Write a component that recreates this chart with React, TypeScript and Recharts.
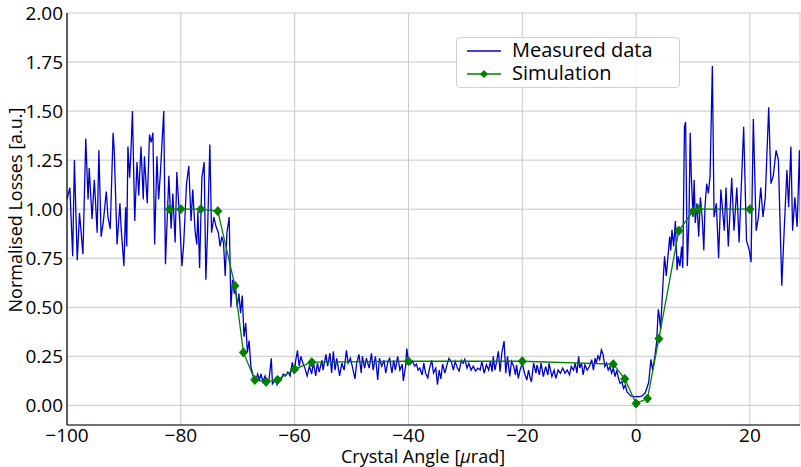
import { LineChart, Line, XAxis, YAxis, CartesianGrid, Label } from 'recharts';

// measured beam losses vs crystal angle
const measuredX = [
  -100, -99.5, -99.0, -98.7, -98.2, -97.8, -97.2, -96.7, -96.3, -96.1, -95.6, -95.2, -94.7, -94.4, -94.0, -93.6,
  -93.1, -92.8, -92.4, -91.9, -91.7, -91.2, -90.7, -90.5, -90.0, -89.7, -89.5, -89.3, -89.0, -88.8, -88.5, -88.1,
  -87.7, -87.4, -87.0, -86.6, -86.4, -85.9, -85.5, -85.2, -84.9, -84.6, -84.2, -83.9, -83.6, -83.0, -82.7, -82.1,
  -81.7, -81.4, -81.0, -80.7, -80.2, -79.8, -79.5, -79.0, -78.6, -78.2, -77.9, -77.5, -77.2, -77.0, -76.7, -76.3,
  -75.9, -75.6, -75.3, -74.9, -74.6, -74.2, -73.8, -73.4, -73.1, -72.8, -72.5, -72.2, -71.9, -71.5, -71.2, -70.9,
  -70.6, -70.4, -70.1, -69.8, -69.5, -69.2, -68.9, -68.6, -68.3, -68.0, -67.7, -67.3, -66.8, -66.5, -66.2, -65.9,
  -65.6, -65.2, -64.9, -64.5, -64.1, -63.9, -63.4, -63.1, -62.7, -62.4, -62.0, -61.6, -61.2, -60.8, -60.4, -60.1,
  -59.8, -59.5, -59.2, -58.9, -58.6, -58.2, -57.8, -57.4, -57.0, -56.7, -56.3, -56.0, -55.7, -55.2, -55.0, -54.5,
  -54.2, -53.8, -53.5, -53.2, -52.9, -52.6, -52.1, -51.7, -51.3, -50.9, -50.6, -50.2, -49.8, -49.4, -49.1, -48.7,
  -48.3, -48.1, -47.7, -47.4, -46.9, -46.5, -46.2, -45.8, -45.4, -45.1, -44.7, -44.3, -44.0, -43.6, -43.3, -42.9,
  -42.6, -42.3, -41.9, -41.5, -41.1, -40.9, -40.5, -40.3, -40.0, -39.7, -39.3, -38.9, -38.6, -38.3, -38.0, -37.6,
  -37.3, -37.0, -36.6, -36.3, -35.9, -35.6, -35.2, -34.9, -34.6, -34.3, -34.0, -33.6, -33.2, -32.9, -32.5, -32.1,
  -31.8, -31.4, -31.1, -30.7, -30.4, -30.1, -29.7, -29.4, -29.0, -28.6, -28.2, -27.8, -27.4, -27.1, -26.7, -26.3,
  -25.9, -25.6, -25.3, -25.1, -24.8, -24.5, -24.2, -23.9, -23.6, -23.2, -22.9, -22.6, -22.2, -21.9, -21.5, -21.2,
  -21.0, -20.7, -20.4, -20.0, -19.6, -19.2, -18.9, -18.6, -18.4, -18.0, -17.6, -17.4, -17.0, -16.7, -16.3, -15.9,
  -15.5, -15.3, -14.8, -14.4, -14.1, -13.7, -13.3, -12.9, -12.5, -12.1, -11.7, -11.4, -11.0, -10.7, -10.4, -10.1,
  -9.9, -9.6, -9.3, -9.0, -8.6, -8.2, -7.8, -7.5, -7.2, -7.0, -6.7, -6.4, -6.1, -5.8, -5.5, -5.2,
  -4.9, -4.6, -4.3, -4.0, -3.7, -3.4, -3.1, -2.8, -2.5, -2.2, -1.9, -1.6, -1.3, -1.0, -0.5, 0.0,
  0.5, 1.0, 1.6, 2.2, 2.6, 2.9, 3.3, 3.6, 3.9, 4.1, 4.3, 4.6, 4.8, 5.0, 5.3, 5.5,
  5.9, 6.1, 6.3, 6.6, 6.9, 7.2, 7.4, 7.7, 8.0, 8.2, 8.5, 8.7, 9.0, 9.3, 9.5, 9.7,
  10.0, 10.2, 10.4, 10.7, 11.0, 11.3, 11.6, 11.9, 12.1, 12.4, 12.7, 13.0, 13.4, 13.7, 14.1, 14.5,
  14.9, 15.5, 15.8, 16.2, 16.8, 17.2, 17.7, 18.1, 18.9, 19.4, 19.9, 20.2, 20.6, 21.1, 21.5, 21.9,
  22.3, 22.7, 23.3, 23.7, 24.1, 24.6, 25.0, 25.6, 26.0, 26.5, 26.8, 27.2, 27.5, 27.9, 28.3, 28.7,
  28.9,
];
const measuredY = [
  1.05, 1.11, 0.76, 1.25, 0.74, 0.98, 0.77, 1.36, 1.05, 1.21, 0.95, 1.15, 0.88, 1.30, 0.86, 0.94,
  1.09, 0.96, 0.90, 1.39, 1.30, 0.82, 1.03, 0.91, 0.71, 1.01, 0.81, 1.32, 1.16, 1.27, 1.50, 0.94,
  1.24, 1.07, 1.32, 1.05, 1.27, 1.03, 1.38, 1.34, 1.39, 0.82, 1.27, 1.05, 1.18, 1.50, 0.72, 1.17,
  0.90, 1.08, 0.83, 1.19, 0.94, 0.71, 0.82, 1.13, 1.22, 0.94, 1.10, 0.89, 0.82, 0.99, 0.70, 1.16,
  1.24, 0.64, 0.89, 1.33, 0.88, 0.96, 0.91, 0.88, 0.81, 0.86, 0.83, 0.66, 0.88, 0.96, 0.50, 0.64,
  0.57, 0.61, 0.50, 0.57, 0.47, 0.56, 0.35, 0.42, 0.27, 0.33, 0.20, 0.15, 0.13, 0.16, 0.13, 0.16,
  0.12, 0.15, 0.11, 0.13, 0.24, 0.11, 0.13, 0.105, 0.14, 0.13, 0.16, 0.15, 0.17, 0.15, 0.22, 0.16,
  0.23, 0.28, 0.20, 0.25, 0.22, 0.19, 0.15, 0.20, 0.16, 0.22, 0.15, 0.215, 0.17, 0.23, 0.18, 0.26,
  0.20, 0.267, 0.165, 0.275, 0.18, 0.24, 0.15, 0.215, 0.18, 0.28, 0.215, 0.24, 0.19, 0.135, 0.215, 0.26,
  0.165, 0.25, 0.19, 0.24, 0.19, 0.265, 0.18, 0.25, 0.13, 0.24, 0.20, 0.23, 0.165, 0.225, 0.24, 0.165,
  0.23, 0.18, 0.25, 0.18, 0.21, 0.125, 0.20, 0.29, 0.225, 0.21, 0.225, 0.20, 0.21, 0.18, 0.19, 0.155,
  0.215, 0.165, 0.14, 0.19, 0.23, 0.165, 0.19, 0.105, 0.18, 0.135, 0.21, 0.165, 0.21, 0.24, 0.225, 0.18,
  0.225, 0.19, 0.175, 0.23, 0.215, 0.235, 0.19, 0.215, 0.18, 0.20, 0.175, 0.19, 0.18, 0.224, 0.164, 0.207,
  0.18, 0.224, 0.172, 0.25, 0.18, 0.224, 0.276, 0.172, 0.267, 0.328, 0.164, 0.25, 0.147, 0.224, 0.198, 0.155,
  0.207, 0.138, 0.18, 0.215, 0.164, 0.129, 0.18, 0.138, 0.12, 0.215, 0.164, 0.207, 0.155, 0.215, 0.147, 0.198,
  0.155, 0.215, 0.147, 0.18, 0.138, 0.18, 0.164, 0.19, 0.164, 0.18, 0.155, 0.198, 0.18, 0.215, 0.164, 0.25,
  0.19, 0.215, 0.155, 0.207, 0.18, 0.198, 0.233, 0.18, 0.241, 0.215, 0.253, 0.233, 0.284, 0.26, 0.198, 0.215,
  0.18, 0.198, 0.164, 0.19, 0.147, 0.18, 0.138, 0.112, 0.12, 0.086, 0.103, 0.069, 0.06, 0.05, 0.045, 0.045,
  0.045, 0.047, 0.064, 0.115, 0.234, 0.18, 0.25, 0.32, 0.49, 0.45, 0.39, 0.556, 0.66, 0.76, 0.66, 0.725,
  0.86, 0.79, 0.895, 0.81, 0.94, 0.69, 0.76, 0.71, 0.81, 0.70, 1.42, 1.445, 0.71, 0.96, 1.39, 1.17,
  0.96, 1.15, 0.93, 1.03, 0.86, 1.06, 0.96, 0.79, 1.01, 1.13, 1.08, 1.17, 1.73, 0.96, 1.03, 0.75,
  1.10, 0.89, 1.11, 0.81, 1.16, 0.89, 1.11, 0.83, 1.42, 0.84, 0.79, 0.73, 1.46, 0.89, 0.96, 1.11,
  0.96, 1.06, 1.52, 1.13, 1.17, 1.30, 1.25, 0.61, 0.88, 1.20, 1.01, 1.32, 0.89, 1.06, 0.91, 1.30,
  0.93,
];

// simulation points
const simX = [-82, -80, -76.5, -73.5, -70.5, -69, -67, -65, -63, -60, -57, -40, -20, -4, -2, 0, 2, 4, 7.5, 10, 11, 20];
const simY = [1.0, 1.0, 1.0, 0.99, 0.61, 0.27, 0.13, 0.12, 0.13, 0.185, 0.22, 0.225, 0.225, 0.21, 0.135, 0.01, 0.035, 0.34, 0.89, 0.99, 1.0, 1.0];

const xTicks = [-100, -80, -60, -40, -20, 0, 20];
const yTicks = [0, 0.25, 0.5, 0.75, 1.0, 1.25, 1.5, 1.75, 2.0];

const measured = measuredX.map((x, i) => ({ x, y: measuredY[i] }));
const simulation = simX.map((x, i) => ({ x, y: simY[i] }));

const FONT = "'Open Sans', sans-serif";
const BLUE = '#0000cc';
const GREEN = '#008000';

const fmtX = (v: number) => (v < 0 ? '\u2212' + Math.abs(v) : String(v));

const Diamond = (props: any) => {
  const { cx, cy } = props;
  if (cx == null || cy == null) return <g key={props.key} />;
  return (
    <path
      key={props.key}
      d={`M${cx},${cy - 4.5} L${cx + 4},${cy} L${cx},${cy + 4.5} L${cx - 4},${cy} Z`}
      fill={GREEN}
      stroke={GREEN}
    />
  );
};

const LegendBox = () => (
  <div
    style={{
      position: 'absolute',
      left: 456,
      top: 37,
      background: 'rgba(255,255,255,0.85)',
      border: '1px solid #d0d0d0',
      borderRadius: 4,
      width: 224,
      height: 51,
      boxSizing: 'border-box',
      fontFamily: FONT,
      fontSize: 20,
      color: '#000',
    }}
  >
    <svg width={50} height={50} style={{ position: 'absolute', left: 0, top: 0 }}>
      <line x1={10} x2={44} y1={13} y2={13} stroke={BLUE} strokeWidth={1.5} />
      <line x1={10} x2={44} y1={36} y2={36} stroke={GREEN} strokeWidth={1.5} />
      <path d="M27,32 L31,36 L27,40 L23,36 Z" fill={GREEN} />
    </svg>
    <div style={{ position: 'absolute', left: 55, top: 2, lineHeight: '20px', whiteSpace: 'nowrap' }}>Measured data</div>
    <div style={{ position: 'absolute', left: 55, top: 25, lineHeight: '20px', whiteSpace: 'nowrap' }}>Simulation</div>
  </div>
);

export default function App() {
  return (
    <div style={{ position: 'absolute', left: 0, top: 0, width: 801, height: 467, background: '#fff' }}>
      <LineChart width={801} height={467} margin={{ top: 13, right: 1, bottom: 0, left: 0 }}>
        <CartesianGrid stroke="#c8c8c8" strokeWidth={1} />
        <XAxis
          type="number"
          dataKey="x"
          domain={[-100, 28.8]}
          ticks={xTicks}
          allowDataOverflow
          tickFormatter={fmtX}
          tickLine={false}
          axisLine={{ stroke: '#000', strokeWidth: 1.2 }}
          tick={{ fontSize: 19, fill: '#000', fontFamily: FONT }}
          tickSize={4}
          tickMargin={0}
          height={42}
        >
          <Label
            content={() => (
              <text x={423} y={463} textAnchor="middle" fontFamily={FONT} fontSize={18} fill="#000">
                Crystal Angle [<tspan fontStyle="italic">μ</tspan>rad]
              </text>
            )}
          />
        </XAxis>
        <YAxis
          type="number"
          dataKey="y"
          domain={[-0.1, 2.0]}
          ticks={yTicks}
          allowDataOverflow
          tickFormatter={(v: number) => v.toFixed(2)}
          tickLine={false}
          axisLine={{ stroke: '#000', strokeWidth: 1.2 }}
          tick={{ fontSize: 19, fill: '#000', fontFamily: FONT }}
          tickSize={4}
          tickMargin={0}
          width={67}
        >
          <Label
            content={() => (
              <text
                x={15}
                y={210}
                transform="rotate(-90 15 210)"
                textAnchor="middle"
                dominantBaseline="central"
                fontFamily={FONT}
                fontSize={18}
                fill="#000"
              >
                Normalised Losses [a.u.]
              </text>
            )}
          />
        </YAxis>
        <Line
          data={measured}
          dataKey="y"
          type="linear"
          stroke={BLUE}
          strokeWidth={1.3}
          dot={false}
          isAnimationActive={false}
          name="Measured data"
        />
        <Line
          data={simulation}
          dataKey="y"
          type="linear"
          stroke={GREEN}
          strokeWidth={1.3}
          dot={Diamond}
          isAnimationActive={false}
          name="Simulation"
        />
      </LineChart>
      <LegendBox />
    </div>
  );
}
